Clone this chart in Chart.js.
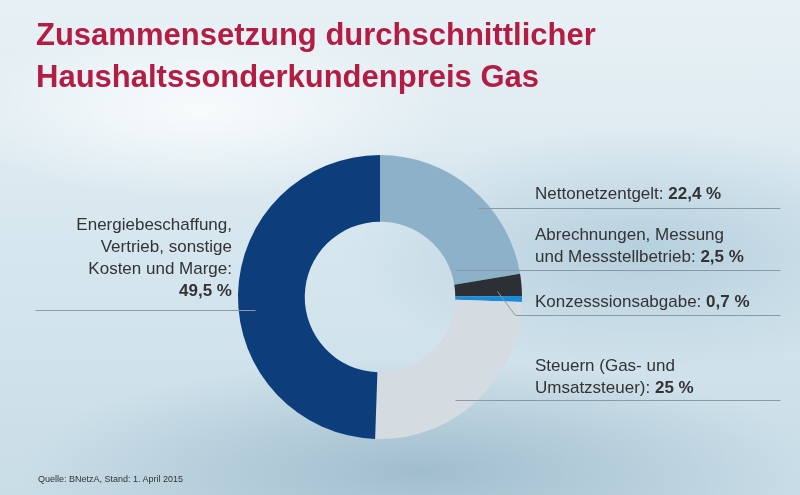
<!DOCTYPE html>
<html><head><meta charset="utf-8">
<script src="https://cdn.jsdelivr.net/npm/chart.js@4/dist/chart.umd.min.js"></script>
<style>
html,body{margin:0;padding:0;width:800px;height:495px;overflow:hidden;font-family:Arial,"Liberation Sans",sans-serif}
#bg{position:absolute;left:0;top:0;width:800px;height:495px;
background:radial-gradient(ellipse 260px 90px at 200px 110px,rgba(255,255,255,.8),transparent),
radial-gradient(ellipse 300px 120px at 640px 250px,rgba(150,185,205,.5),transparent),
radial-gradient(ellipse 400px 110px at 420px 470px,rgba(110,150,175,.45),transparent),
linear-gradient(180deg,#e8f1f5 0%,#d6e6ee 50%,#c9dde7 100%);}
h1{position:absolute;left:36px;top:14px;margin:0;font-size:31px;line-height:42px;color:#b41d43;font-weight:bold}
.l{position:absolute;font-size:17px;line-height:22px;color:#333}
.l b{font-weight:bold}
#src{position:absolute;left:38px;top:474px;font-size:9px;color:#333}
canvas{position:absolute;left:0;top:0}
</style></head><body>
<div id="bg"></div>
<canvas id="c" width="800" height="495"></canvas>
<h1>Zusammensetzung durchschnittlicher<br>Haushaltssonderkundenpreis Gas</h1>
<div class="l" style="left:535px;top:183px">Nettonetzentgelt: <b>22,4 %</b></div>
<div class="l" style="left:535px;top:224px">Abrechnungen, Messung<br>und Messstellbetrieb: <b>2,5 %</b></div>
<div class="l" style="left:535px;top:291px">Konzesssionsabgabe: <b>0,7 %</b></div>
<div class="l" style="left:535px;top:355px">Steuern (Gas- und<br>Umsatzsteuer): <b>25 %</b></div>
<div class="l" style="left:22px;top:214px;text-align:right;width:210px">Energiebeschaffung,<br>Vertrieb, sonstige<br>Kosten und Marge:<br><b>49,5 %</b></div>
<div id="src">Quelle: BNetzA, Stand: 1. April 2015</div>
<script>
const categories=["Nettonetzentgelt","Abrechnungen, Messung und Messstellbetrieb","Konzesssionsabgabe","Steuern (Gas- und Umsatzsteuer)","Energiebeschaffung, Vertrieb, sonstige Kosten und Marge"];
const values=[22.4,2.5,0.7,25,49.5];
const colors=["#8eb1ca","#2c2f33","#1b8bd6","#d4dce1","#0d3e7b"];
const leaders=[[[478,208],[780,208]],[[455,270],[780,270]],[[497,291],[515,315],[780,315]],[[455,400],[780,400]],[[255,310],[35,310]]];
const leaderPlugin={id:'lead',afterDraw(ch){const x=ch.ctx;x.save();x.strokeStyle='#8a9aa5';x.lineWidth=1;
leaders.forEach(p=>{x.beginPath();x.moveTo(p[0][0]+.5,p[0][1]+.5);for(let i=1;i<p.length;i++)x.lineTo(p[i][0]+.5,p[i][1]+.5);x.stroke();});x.restore();}};
new Chart(document.getElementById('c'),{type:'doughnut',
data:{labels:categories,datasets:[{data:values,backgroundColor:colors,borderWidth:0}]},
options:{responsive:false,animation:false,cutout:'53%',
layout:{padding:{left:238,right:278,top:155,bottom:56}},
plugins:{legend:{display:false},tooltip:{enabled:false}}},
plugins:[leaderPlugin]});
</script>
</body></html>
